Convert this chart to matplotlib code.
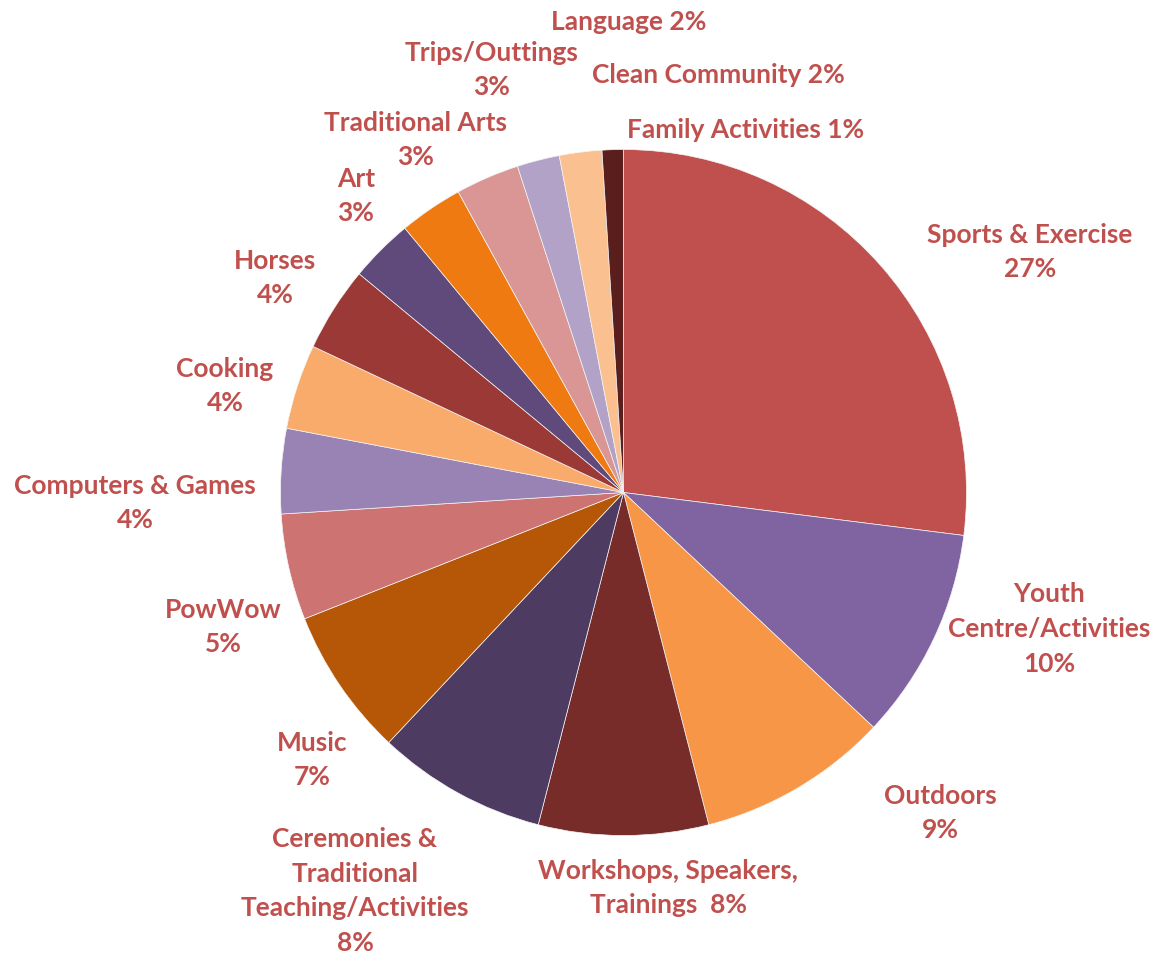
import matplotlib.pyplot as plt
import numpy as np

categories = ["Sports & Exercise", "Youth\nCentre/Activities", "Outdoors",
              "Workshops, Speakers,\nTrainings ", "Ceremonies &\nTraditional\nTeaching/Activities",
              "Music", "PowWow", "Computers & Games", "Cooking", "Horses", "Art",
              "Traditional Arts", "Trips/Outtings", "Language", "Clean Community",
              "Family Activities"]
percent = [27, 10, 9, 8, 8, 7, 5, 4, 4, 4, 3, 3, 3, 2, 2, 1]
colors = ["#C0504D", "#8064A2", "#F79646", "#772C2A", "#4D3B62", "#B65708",
          "#CD7371", "#9983B5", "#F9AB6B", "#9B3937", "#604A7B", "#F07A12",
          "#D99694", "#B3A2C7", "#FAC090", "#5A1E1D"]
# label separator: newline or space before the percentage
sep = ["\n", "\n", "\n", " ", "\n", "\n", "\n", "\n", "\n", "\n", "\n", "\n", "\n", " ", " ", " "]

# label centres in pixels of the 1156x958 canvas
label_px = [(1030, 252), (1049, 629), (940, 813), (668, 888), (355, 891),
            (312, 760), (223, 627), (135, 503), (225, 386), (275, 278),
            (356, 196), (416, 140), (492, 70), (629, 22), (718, 75), (746, 130)]

W, H = 1156, 958
cx, cy, R = 623.5, 492.5, 343.0

fig = plt.figure(figsize=(W / 100, H / 100), dpi=100)
ax = fig.add_axes([0, 0, 1, 1])
ax.pie(percent, colors=colors, startangle=90, counterclock=False, radius=1,
       wedgeprops=dict(edgecolor="#f4f4f4", linewidth=0.5))
ax.set_xlim(-cx / R, (W - cx) / R)
ax.set_ylim(-(H - cy) / R, cy / R)
ax.set_aspect("equal")
ax.axis("off")

for name, p, s, (px, py) in zip(categories, percent, sep, label_px):
    ax.text((px - cx) / R, (cy - py) / R, f"{name}{s}{p}%", ha="center", va="center",
            color="#C0504D", fontsize=19, fontweight="bold", family="Lato",
            linespacing=1.54)

fig.savefig("out.png", dpi=100)
